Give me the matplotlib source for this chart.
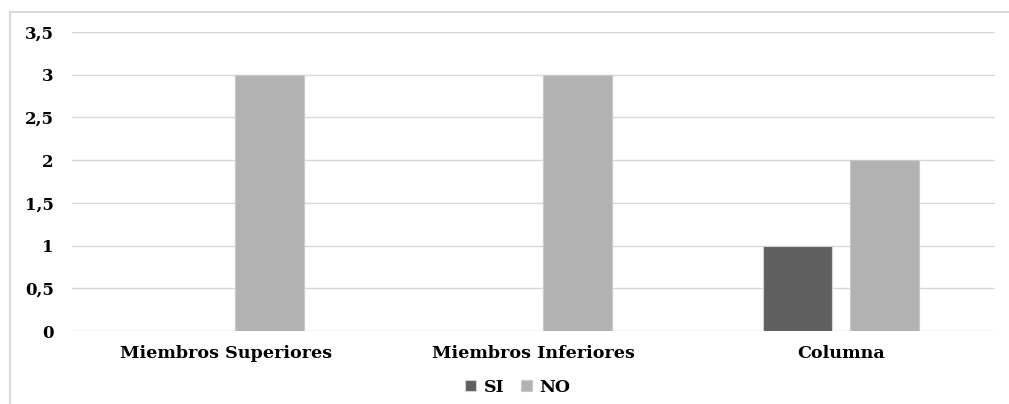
import matplotlib
matplotlib.use("Agg")
import matplotlib.pyplot as plt
from matplotlib.lines import Line2D
from matplotlib.ticker import FuncFormatter
import numpy as np

categories = ["Miembros Superiores", "Miembros Inferiores", "Columna"]
si_values = [0, 0, 1]
no_values = [3, 3, 2]
y_ticks = [0, 0.5, 1, 1.5, 2, 2.5, 3, 3.5]

plt.rcParams["font.family"] = ["DejaVu Serif"]
plt.rcParams["font.weight"] = "bold"

fig = plt.figure(figsize=(10.09, 4.04), dpi=100)
ax = fig.add_axes([72 / 1009, 1 - 331 / 404, (995 - 72) / 1009, (331 - 32) / 404])

x = np.arange(len(categories))
width = 0.224
offset = 0.142

ax.bar(x - offset, si_values, width, color="#5f5f5f", edgecolor="#d4d4d4",
       linewidth=0.8, label="SI", zorder=3)
ax.bar(x + offset, no_values, width, color="#b2b2b2", edgecolor="#c8c8c8",
       linewidth=0.8, label="NO", zorder=3)

ax.set_xlim(-0.5, len(categories) - 0.5)
ax.set_ylim(0, 3.5)
ax.set_yticks(y_ticks)
ax.yaxis.set_major_formatter(FuncFormatter(lambda v, p: (f"{v:g}").replace(".", ",")))
ax.set_xticks(x)
ax.set_xticklabels(categories)

ax.grid(axis="y", color="#d9d9d9", linewidth=1.0, zorder=0)
ax.set_axisbelow(True)
for side in ["top", "right", "left", "bottom"]:
    ax.spines[side].set_visible(False)

ax.tick_params(axis="y", length=0, pad=13, labelsize=12)
ax.tick_params(axis="x", length=0, pad=10, labelsize=12.6)
for lbl in ax.get_yticklabels() + ax.get_xticklabels():
    lbl.set_fontweight("bold")

leg = fig.legend(loc="center", bbox_to_anchor=(518 / 1009, 1 - 387 / 404), ncol=2,
                 frameon=False, handlelength=0.6, handleheight=0.6,
                 handletextpad=0.45, columnspacing=1.0, prop={"weight": "bold", "size": 12.5})

# Outer chart frame (top and left edges)
fy = 1 - 11.5 / 404
fx = 9.5 / 1009
fig.add_artist(Line2D([fx, 1], [fy, fy], transform=fig.transFigure,
                      color="#d9d9d9", linewidth=1.5))
fig.add_artist(Line2D([fx, fx], [0, fy], transform=fig.transFigure,
                      color="#d9d9d9", linewidth=1.5))

fig.savefig("out.png", dpi=100)
